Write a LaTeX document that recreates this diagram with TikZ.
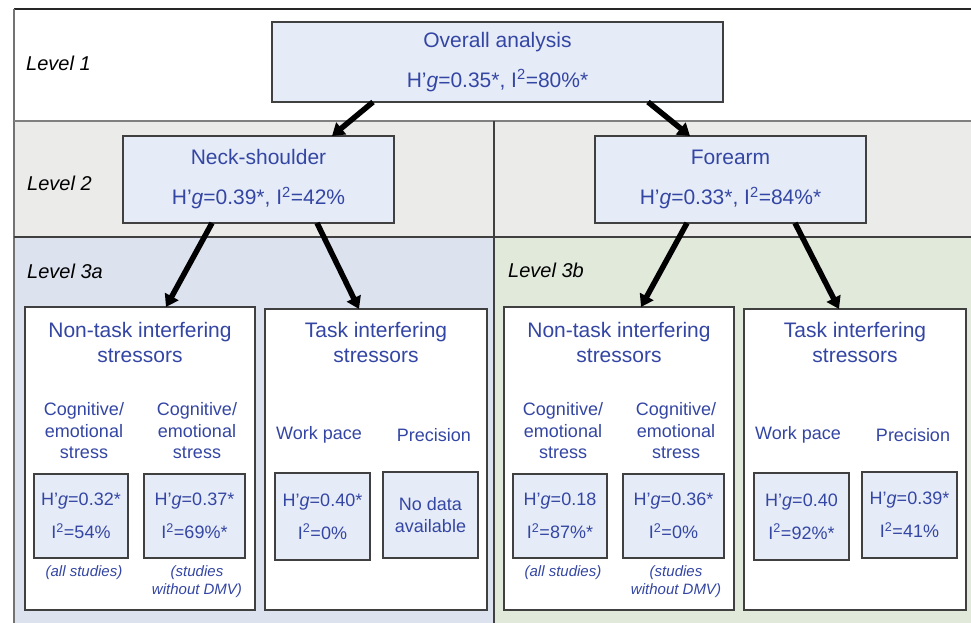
\documentclass[tikz,border=0pt]{standalone}
\usepackage{fontspec}
\setmainfont{Liberation Sans}
\usetikzlibrary{arrows.meta}
\definecolor{txtblue}{HTML}{3446A4}
\definecolor{boxfill}{HTML}{E6ECF7}
\definecolor{lvtwo}{HTML}{EBECEA}
\definecolor{lvthreea}{HTML}{DCE3EF}
\definecolor{lvthreeb}{HTML}{E1E9DB}
\definecolor{bordergray}{HTML}{404040}
\newcommand{\Hg}[1]{H’\textit{g}=#1}
\newcommand{\Isq}[1]{I\textsuperscript{2}=#1}
\begin{document}
\begin{tikzpicture}[x=1pt,y=-1pt,
  mainbox/.style={draw=bordergray, fill=boxfill, line width=1.1pt, inner sep=0pt, outer sep=0pt,
    text=txtblue, align=center, font=\fontsize{21}{40}\selectfont},
  stressbox/.style={draw=bordergray, fill=white, line width=1.1pt, inner sep=0pt, outer sep=0pt},
  valbox/.style={draw=bordergray, fill=boxfill, line width=1.1pt, inner sep=0pt, outer sep=0pt,
    text=txtblue, align=center, font=\fontsize{18}{33}\selectfont},
  lvl/.style={anchor=west, inner sep=0pt, font=\fontsize{20}{24}\selectfont\itshape},
  ttl/.style={text=txtblue, align=center, inner sep=0pt, font=\fontsize{21}{25}\selectfont},
  sublbl/.style={text=txtblue, align=center, inner sep=0pt, font=\fontsize{18}{21.5}\selectfont},
  note/.style={text=txtblue, align=center, inner sep=0pt, font=\fontsize{15}{18}\selectfont\itshape},
  arr/.style={-{Triangle[width=15pt,length=12pt]}, line width=5.5pt, black},
  bandline/.style={line width=1.2pt}
]
\useasboundingbox (0,0) rectangle (971,623);
% backgrounds
\fill[white] (0,0) rectangle (971,623);
\fill[lvtwo] (14,121) rectangle (971,237);
\fill[lvthreea] (14,237) rectangle (494,623);
\fill[lvthreeb] (494,237) rectangle (971,623);
\draw[bandline, black!85] (971,9) -- (14,9);
\draw[bandline, black!55] (14,9) -- (14,623);
\draw[bandline, black!50] (14,121) -- (971,121);
\draw[bandline, black!75] (14,237) -- (971,237);
\draw[bandline, black!75] (494,121) -- (494,623);

% level labels
\node[lvl] (l1) at (26,63) {Level 1};
\node[lvl] (l2) at (27,183) {Level 2};
\node[lvl] (l3a) at (27,271) {Level 3a};
\node[lvl] (l3b) at (508,270) {Level 3b};

% level 1 and 2 boxes
\node[mainbox, minimum width=451pt, minimum height=80pt] (ov) at (497.5,62)
  {Overall analysis\\\Hg{0.35*}, \Isq{80\%*}};
\node[mainbox, minimum width=271pt, minimum height=87pt] (neck) at (258.5,179.5)
  {Neck-shoulder\\\Hg{0.39*}, \Isq{42\%}};
\node[mainbox, minimum width=271pt, minimum height=87pt] (fore) at (730.5,179.5)
  {Forearm\\\Hg{0.33*}, \Isq{84\%*}};

% level 3 stressor boxes
\node[stressbox, minimum width=230pt, minimum height=303pt] (nta) at (140,458.5) {};
\node[stressbox, minimum width=222pt, minimum height=301pt] (ta) at (376,459.5) {};
\node[stressbox, minimum width=230pt, minimum height=303pt] (ntb) at (619,458.5) {};
\node[stressbox, minimum width=222pt, minimum height=301pt] (tb) at (855,459.5) {};

% titles
\node[ttl] (ntat) at (140,342) {Non-task interfering\\stressors};
\node[ttl] (tat) at (376,342) {Task interfering\\stressors};
\node[ttl] (ntbt) at (619,342) {Non-task interfering\\stressors};
\node[ttl] (tbt) at (855,342) {Task interfering\\stressors};

% sub labels
\node[sublbl] (cga1) at (84,431) {Cognitive/\\emotional\\stress};
\node[sublbl] (cga2) at (197,431) {Cognitive/\\emotional\\stress};
\node[sublbl] (wpal) at (319,435) {Work pace};
\node[sublbl] (pral) at (434,435) {Precision};
\node[sublbl] (cgb1) at (563,431) {Cognitive/\\emotional\\stress};
\node[sublbl] (cgb2) at (676,431) {Cognitive/\\emotional\\stress};
\node[sublbl] (wpbl) at (798,435) {Work pace};
\node[sublbl] (prbl) at (913,435) {Precision};

% value boxes
\node[valbox, minimum width=94pt, minimum height=84pt] (va1) at (81,516) {\Hg{0.32*}\\\Isq{54\%}};
\node[valbox, minimum width=101pt, minimum height=84pt] (va2) at (194.5,516) {\Hg{0.37*}\\\Isq{69\%*}};
\node[valbox, minimum width=95pt, minimum height=87pt] (wpa) at (322.5,516.5) {\Hg{0.40*}\\\Isq{0\%}};
\node[valbox, minimum width=95pt, minimum height=86pt, font=\fontsize{18}{22}\selectfont] (pra) at (430.5,515) {No data\\available};
\node[valbox, minimum width=94pt, minimum height=84pt] (vb1) at (560,516) {\Hg{0.18}\\\Isq{87\%*}};
\node[valbox, minimum width=101pt, minimum height=84pt] (vb2) at (673.5,516) {\Hg{0.36*}\\\Isq{0\%}};
\node[valbox, minimum width=95pt, minimum height=87pt] (wpb) at (801.5,516.5) {\Hg{0.40}\\\Isq{92\%*}};
\node[valbox, minimum width=95pt, minimum height=86pt] (prb) at (909.5,515) {\Hg{0.39*}\\\Isq{41\%}};

% notes
\node[note] (na1) at (84,573) {(all studies)};
\node[note] (na2) at (197,582) {(studies\\without DMV)};
\node[note] (nb1) at (563,573) {(all studies)};
\node[note] (nb2) at (676,582) {(studies\\without DMV)};

% arrows
\draw[arr] ([xshift=-124.5pt]ov.south) -- ([xshift=73.5pt]neck.north);
\draw[arr] ([xshift=150.5pt]ov.south) -- ([xshift=-40.5pt]fore.north);
\draw[arr] ([xshift=-46.5pt]neck.south) -- ([xshift=26pt]nta.north);
\draw[arr] ([xshift=58.5pt]neck.south) -- ([xshift=-17pt]ta.north);
\draw[arr] ([xshift=-43.5pt]fore.south) -- ([xshift=22pt]ntb.north);
\draw[arr] ([xshift=64.5pt]fore.south) -- ([xshift=-16pt]tb.north);
\end{tikzpicture}
\end{document}
